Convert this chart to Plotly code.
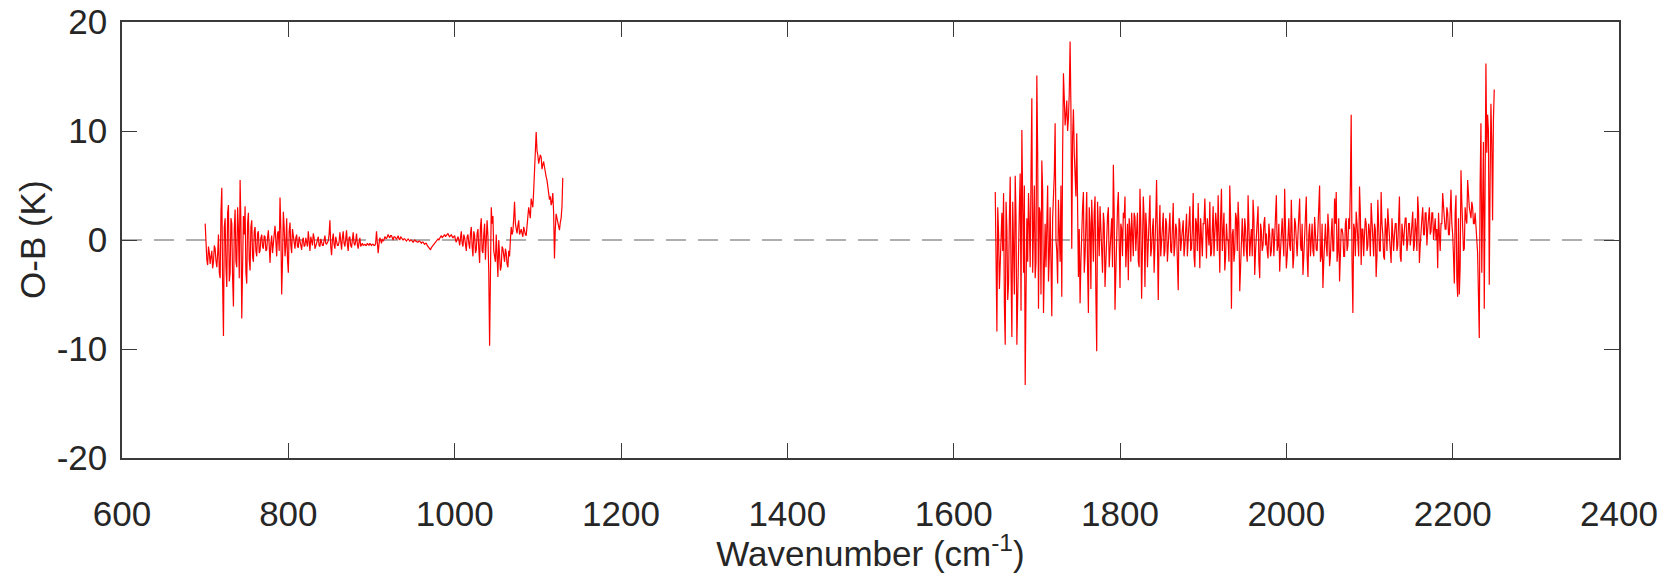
import plotly.graph_objects as go

# ---------------- data (O-B in K) ----------------
# Band 1, channels at even wavenumbers 700, 702, ... 1130 cm-1
band1_even_start = 700
band1_even_ob = [
    1.5, -1.8, -0.6, -2.2, -1.0, -2.0, -0.8, -2.5, 0.5, -3.5,
    4.8, -8.8, 2.0, -4.3, 3.2, -3.0, 1.5, -6.1, 2.8, -2.5,
    1.0, 5.5, -7.2, 2.2, 3.1, -4.0, 2.5, -2.8, 1.8, -2.0,
    1.2, -1.5, 0.8, -1.0, 0.5, -0.8, 0.3, -0.9, 0.9, -2.1,
    0.4, -0.6, 1.3, -1.5, 0.8, 3.9, -5.0, 2.6, -1.5, 2.0,
    -3.0, 1.6, -1.2, 0.4, -0.8, 0.5, -0.7, -0.2, -0.9, 0.2,
    -0.5, -0.3, 0.8, -1.0, -0.2, 0.6, -0.8, -0.3, 0.3, -0.6,
    -0.2, -0.5, 0.4, -0.4, -0.1, 1.8, -1.4, 0.6, -0.8, -0.2,
    -0.5, 0.7, -0.9, 0.8, -0.6, 0.9, -1.0, 0.3, -0.7, 0.7,
    -0.5, 0.6, -0.8, 0.2, -0.4, -0.5, -0.4, -0.5, -0.4, -0.3,
    -0.5, -0.4, -0.5, 0.8, -1.2, 0.2, -0.3, -0.1, 0.3, 0.1,
    0.5, 0.2, 0.4, 0.0, 0.3, 0.1, 0.4, 0.0, 0.2, 0.0,
    0.1, -0.1, 0.1, -0.1, 0.0, -0.2, 0.0, -0.1, -0.2, -0.1,
    -0.3, -0.2, -0.4, -0.3, -0.6, -0.8, -0.7, -0.5, -0.3, -0.1,
    0.1, 0.2, 0.4, 0.3, 0.5, 0.4, 0.6, 0.3, 0.5, 0.2,
    0.4, -0.2, 0.3, -0.5, 0.8, -0.6, 0.2, -1.0, 0.5, -0.8,
    1.2, -1.5, 0.4, -0.9, 1.0, -2.1, 2.0, -1.2, 1.5, -0.5,
    0.3, -9.7, 3.0, 2.2, -1.5, 0.5, -3.4, -1.0, -2.4, -0.8,
    -2.0, -1.2, -2.5, -1.5, 1.2, 0.8, 3.5, 1.0, 1.3, 0.5,
    1.0, 0.3, 0.8, 0.4, 2.0, 2.5, 3.8, 3.0, 6.5, 9.9,
    7.8, 7.3, 7.6, 6.9, 6.7, 5.8, 5.0, 3.7, 3.2, 4.3,
    -1.7, 2.4, 1.5, 0.9, 2.0, 5.7,
]
# Band 1, channels at odd wavenumbers 701, 703, ... 1129 cm-1
band1_odd_start = 701
band1_odd_ob = [
    -1.0, -2.3, -1.2, -1.5, -2.6, -0.5, -1.9, -1.3, -3.0, 2.5,
    -4.0, 1.2, -2.5, 2.5, -3.8, 2.0, -3.5, 1.0, -2.0, 3.0,
    -3.5, 1.5, -2.5, 0.5, -3.0, 1.5, -1.8, 1.2, -1.5, 0.8,
    -1.0, 0.6, -1.2, 0.2, -0.6, 0.4, -1.0, 0.2, -0.5, -0.3,
    -1.2, 0.5, -0.4, 0.6, -1.0, 1.0, -2.0, 1.2, -0.5, -1.8,
    0.8, -0.5, 1.0, -0.4, 0.2, -0.6, 0.3, -0.3, 0.0, -0.6,
    0.2, -0.6, -0.1, 0.3, -0.5, 0.2, -0.4, 0.0, -0.5, 0.1,
    -0.5, 0.2, -0.3, -0.2, 0.5, -0.6, 0.0, -0.4, 0.3, -0.5,
    -0.2, -0.5, 0.2, -0.3, 0.1, -0.4, 0.2, -0.5, 0.0, -0.3,
    -0.1, -0.4, -0.2, -0.6, -0.3, -0.4, -0.5, -0.3, -0.5, -0.4,
    -0.4, -0.5, -0.3, -0.2, -0.4, 0.0, 0.1, 0.0, 0.2, 0.3,
    0.3, 0.4, 0.2, 0.3, 0.2, 0.2, 0.1, 0.3, 0.1, 0.1,
    0.0, 0.0, 0.0, 0.0, -0.1, -0.1, -0.1, -0.2, -0.1, -0.2,
    -0.2, -0.3, -0.3, -0.5, -0.7, -0.9, -0.6, -0.4, -0.2, 0.0,
    0.0, 0.3, 0.2, 0.4, 0.3, 0.5, 0.4, 0.4, 0.3, 0.3,
    0.0, 0.1, 0.0, 0.2, -0.3, 0.5, -0.4, 0.3, -0.3, 0.6,
    -0.6, 0.8, -1.2, 0.6, -0.8, 1.2, -1.0, 0.5, -1.8, 1.8,
    -3.0, -0.5, 1.5, -1.0, -2.0, -1.5, 0.0, -2.8, -0.6, -1.8,
    -0.8, -2.2, -1.0, 0.0, 0.5, 2.0, 1.5, 0.6, 1.8, 0.8,
    0.6, 1.2, 0.5, 1.5, 3.0, 2.0, 3.2, 4.5, 8.0, 8.2,
    7.0, 7.8, 6.5, 7.2, 6.0, 5.5, 4.2, 4.0, 3.5, 2.5,
    1.0, 2.0, 1.2, 1.6, 3.0,
]

# Band 2, channels at even wavenumbers 1650, 1652, ... 2250 cm-1
band2_even_start = 1650
band2_even_ob = [
    4.4, -8.4, 0.5, -2.0, 2.5, 4.3, -9.6, 1.0, -4.0, 5.8,
    -8.9, 0.0, 5.9, -9.6, 2.0, 6.1, 10.1, -3.0, -13.3, 2.0,
    4.3, -2.5, 13.0, 1.0, -3.5, 15.1, -6.3, 2.5, 7.3, -6.7,
    1.5, 2.4, -3.8, 3.0, -7.0, 3.5, 10.7, -1.0, 3.7, -2.0,
    -5.2, 15.3, 10.5, 12.8, 11.2, 18.2, -0.8, 12.0, 6.5, 9.8,
    -3.4, -5.8, 2.0, 4.4, -1.5, 4.4, -6.7, 1.5, 3.7, -2.0,
    4.0, -10.2, 1.5, 3.1, -2.4, 2.5, -4.3, 1.0, 3.0, -1.0,
    2.0, 6.9, -6.4, 1.5, 4.4, -4.4, 1.0, 2.5, 4.0, 0.0,
    -3.7, 1.0, 2.5, -1.5, 2.1, 0.5, -2.0, 4.7, -5.4, 4.0,
    -4.3, 1.0, -0.5, 4.1, -0.8, 2.0, -1.0, 5.5, -5.5, 3.2,
    0.0, 2.5, -1.0, 1.5, 0.5, 2.5, -1.2, 3.4, -0.5, 1.0,
    -4.6, 1.5, 0.8, 1.8, -0.5, 2.4, 0.3, 3.1, -0.8, 4.3,
    -2.5, 1.5, 3.4, -2.6, 0.8, 1.5, 3.8, -1.7, 0.5, 3.5,
    -1.2, 3.1, 0.0, 1.5, 4.1, -3.0, 4.7, 0.5, -2.8, 1.5,
    0.0, 5.0, -6.3, 1.0, -1.0, 2.0, 3.5, -4.7, 1.0, 0.0,
    2.0, -1.0, 4.1, -1.5, 1.0, 3.7, -3.2, 0.5, 3.1, -3.5,
    0.8, -0.5, 2.1, 0.6, -1.7, 0.5, -1.0, 1.0, 0.0, 4.1,
    -0.5, -2.9, 1.5, 0.0, 4.7, -2.6, 1.0, -0.5, 3.7, -2.6,
    2.0, -0.5, 0.5, 3.8, -1.0, -3.2, 1.0, 4.0, -3.4, 1.5,
    0.0, -1.0, 2.1, -0.9, 1.0, 5.0, -1.5, -4.4, 1.0, -0.5,
    2.4, -2.4, 0.5, -1.0, 3.8, 4.4, -1.0, -3.8, 1.0, 0.5,
    -1.5, 2.0, -0.5, 1.0, 11.5, -6.7, 1.0, 2.6, -1.0, 4.9,
    -2.3, 1.0, 0.5, 1.5, -0.5, 0.8, 3.4, 0.0, 1.5, -3.4,
    3.7, -1.0, 4.4, 0.5, -1.8, 1.0, 2.9, 0.0, -2.1, 0.8,
    0.5, 1.5, -0.5, 4.0, -2.0, 0.5, 1.0, 2.0, -0.2, 1.5,
    0.3, 2.6, -0.5, 1.0, 4.0, -2.1, 1.5, 3.0, 0.5, 2.5,
    1.0, 3.0, 0.8, 2.5, 1.5, 0.0, -2.6, 0.5, 1.5, 4.3,
    2.0, 1.0, 2.5, 0.5, 4.6, 0.5, -4.0, 4.1, -5.2, -5.0,
    6.4, 1.0, -0.8, 2.0, 5.5, 3.0, 2.0, 3.0, 1.5, 1.2,
    -1.2, -9.0, 10.7, 2.0, -6.3, 16.2, 11.5, -4.1, 12.5, 1.8,
    13.8,
]
# Band 2, channels at odd wavenumbers 1651, 1653, ... 2249 cm-1
band2_odd_start = 1651
band2_odd_ob = [
    -2.0, 3.0, -4.5, 1.5, -1.0, -6.0, 3.5, -5.5, 2.0, -3.0,
    3.5, -5.0, 2.0, -4.0, 3.0, -6.5, 4.0, 5.0, -5.0, -2.0,
    1.5, 6.0, -3.0, 5.0, -2.0, 8.0, 3.0, -5.0, 4.5, 0.0,
    -2.5, 5.0, -1.5, -5.0, 2.0, 6.0, 0.0, -4.0, 1.0, 5.0,
    8.0, 13.0, 11.5, 10.0, 13.5, 12.0, 9.5, 8.0, 4.0, -1.0,
    1.0, -2.0, 3.0, -3.0, 2.0, -2.5, 3.0, -4.5, 1.0, 2.5,
    -5.0, 3.5, -1.5, 0.5, -3.0, 1.5, -1.5, 2.2, -2.5, 1.5,
    -2.5, 2.5, -3.0, 3.0, -2.0, 1.5, -1.5, 2.0, -2.5, 1.5,
    2.0, -2.0, 0.5, 2.5, -1.0, 2.5, -2.5, 1.5, -2.0, 2.0,
    2.5, -2.5, 2.0, -1.5, 1.0, -3.0, 2.0, -2.0, 0.5, -1.5,
    1.5, -1.5, 2.0, -2.0, 1.0, -1.0, 2.0, -1.5, 1.5, -2.0,
    2.0, -1.0, 1.0, -1.5, 1.5, -1.5, 2.0, -1.0, 1.0, -1.5,
    2.0, -1.0, 0.5, 2.0, -1.5, 1.5, -1.0, 2.0, -0.5, -1.5,
    1.5, -1.5, 2.5, -1.0, -1.5, 2.0, -1.0, 2.5, -1.5, 0.0,
    -2.0, 2.0, 0.5, -2.0, 2.5, -1.0, 1.5, -2.0, 2.0, -1.5,
    1.0, -2.0, 2.0, 0.0, -1.5, 2.0, -1.0, 1.5, -2.0, 1.5,
    -1.0, 1.5, -0.5, -1.0, 1.5, -1.5, 1.0, -1.5, 2.0, -1.0,
    1.5, -1.0, 2.0, -1.5, 1.0, -1.5, 2.0, -1.0, 1.0, -1.5,
    1.5, -1.5, 2.0, -0.5, 1.5, -1.5, 2.0, -1.5, 0.5, -1.5,
    1.5, -1.5, 1.0, -1.0, 2.5, -2.0, 1.5, -2.0, 1.5, -1.5,
    1.0, -1.5, 2.0, -1.0, 1.5, -2.0, 2.0, -1.5, 1.0, -1.5,
    1.5, -1.0, 2.0, 5.0, -2.0, 1.5, -1.5, 1.5, -1.5, 2.5,
    1.0, -1.5, 2.0, -1.0, 1.5, -1.5, 2.0, -1.5, 1.0, -1.5,
    2.0, -1.0, 1.5, -1.5, 2.0, -1.0, 1.5, -1.5, 2.0, -1.0,
    1.5, -1.0, 2.0, -1.5, 1.5, -0.5, 2.0, -1.0, 1.5, -0.5,
    1.5, -1.0, 2.0, -1.0, 2.5, -0.5, 2.0, 0.5, 2.5, -0.5,
    2.0, 0.5, 2.5, 0.0, 2.0, 1.0, 2.5, -1.0, 1.5, 2.5,
    1.0, 3.0, 0.5, 2.5, 1.5, -1.5, 2.5, -3.5, 2.0, -2.5,
    3.5, -1.0, 3.0, 1.5, 4.0, 2.5, 3.5, 1.5, 2.5, 0.0,
    -5.0, 5.0, -3.0, 9.0, 13.0, 8.0, 10.0, 5.0, 9.0, 11.0,
]
channel_step = 2

x_ticks = [600, 800, 1000, 1200, 1400, 1600, 1800, 2000, 2200, 2400]
y_ticks = [-20, -10, 0, 10, 20]


def merge(even_start, even_vals, odd_start, odd_vals):
    pts = [(even_start + channel_step * i, v) for i, v in enumerate(even_vals)]
    pts += [(odd_start + channel_step * i, v) for i, v in enumerate(odd_vals)]
    pts.sort()
    return [p[0] for p in pts], [p[1] for p in pts]


band1_wn, band1_ob = merge(band1_even_start, band1_even_ob, band1_odd_start, band1_odd_ob)
band2_wn, band2_ob = merge(band2_even_start, band2_even_ob, band2_odd_start, band2_odd_ob)

LINE = dict(color="#ff0000", width=1.2)
FONT = "Liberation Sans, Arial, sans-serif"
AXC = "#3a3a3a"
FS = 35

fig = go.Figure()
fig.add_trace(go.Scatter(x=band1_wn, y=band1_ob, mode="lines", line=LINE, showlegend=False))
fig.add_trace(go.Scatter(x=band2_wn, y=band2_ob, mode="lines", line=LINE, showlegend=False))

fig.add_shape(type="line", xref="x", yref="y", x0=600, x1=2400, y0=0, y1=0,
              line=dict(color="#606060", width=1.2, dash="20px,12px"), layer="below")

fig.update_layout(
    width=1671, height=573, autosize=False,
    margin=dict(l=122, r=52, t=22, b=115),
    plot_bgcolor="white", paper_bgcolor="white",
    font=dict(family=FONT, size=FS, color="#262626"),
)
fig.update_xaxes(
    range=[600, 2400], tickvals=x_ticks, ticktext=[str(v) for v in x_ticks],
    ticks="inside", ticklen=15, tickwidth=1.3, tickcolor=AXC,
    showline=True, linecolor=AXC, linewidth=1.5, mirror="ticks",
    showgrid=False, zeroline=False, automargin=False,
    ticklabelstandoff=24,
    title=dict(text="Wavenumber (cm<sup>-1</sup>)", standoff=4, font=dict(size=FS)),
)
fig.update_yaxes(
    range=[-20, 20], tickvals=y_ticks, ticktext=[str(v) for v in y_ticks],
    ticks="inside", ticklen=15, tickwidth=1.3, tickcolor=AXC,
    showline=True, linecolor=AXC, linewidth=1.5, mirror="ticks",
    showgrid=False, zeroline=False, automargin=False,
    ticklabelstandoff=6,
)
# y-axis title placed as a rotated annotation (centre ~32 px from the left edge)
fig.add_annotation(
    text="O-B (K)", xref="paper", yref="paper",
    x=(32 - 122) / (1671 - 122 - 52), y=0.5, xanchor="center", yanchor="middle",
    textangle=-90, showarrow=False, font=dict(size=FS, family=FONT, color="#262626"),
)

fig.write_html("out.html")
